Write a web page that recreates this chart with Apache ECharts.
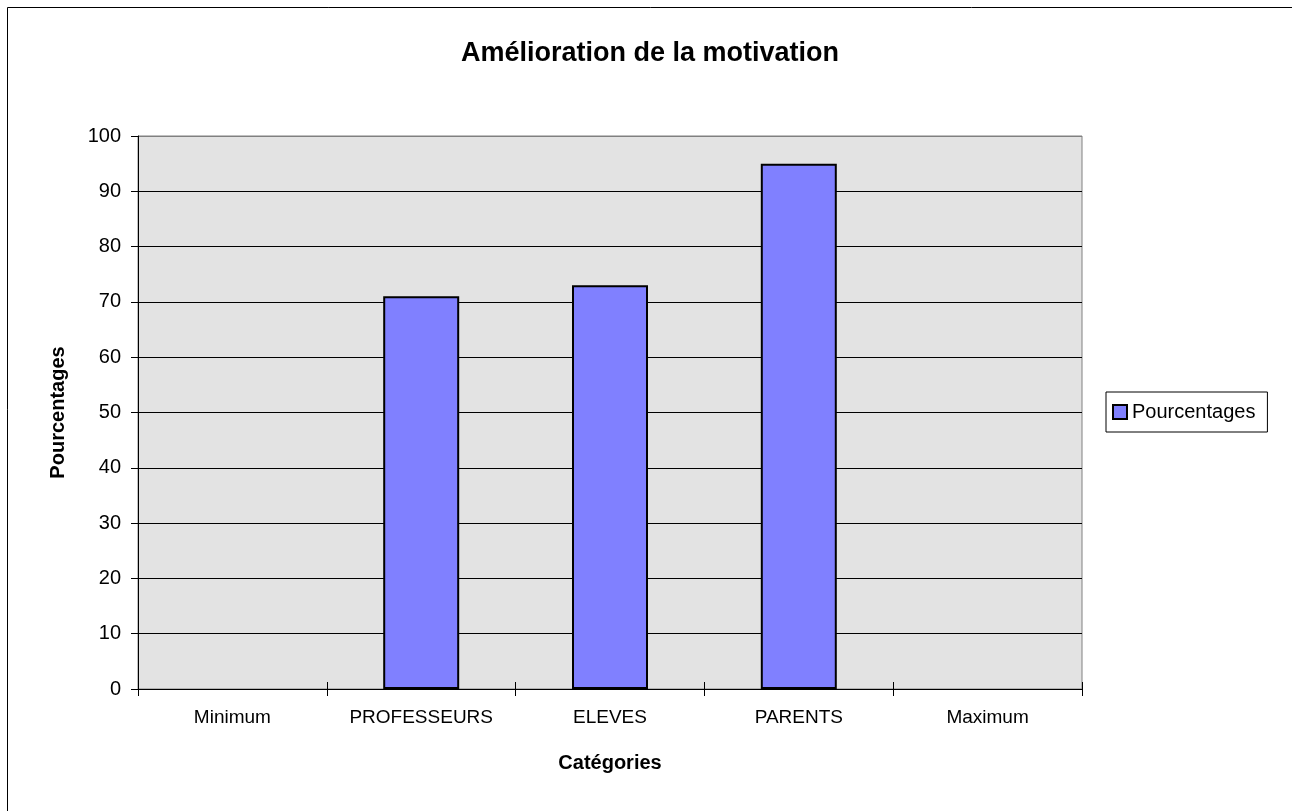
<!DOCTYPE html>
<html>
<head>
<meta charset="utf-8">
<script src="https://cdn.jsdelivr.net/npm/echarts@6/dist/echarts.min.js"></script>
<style>
  html, body { margin: 0; padding: 0; background: #fff; }
  #chart { width: 1292px; height: 811px; }
</style>
</head>
<body>
<div id="chart"></div>
<script>
// data
const categories = ['Minimum', 'PROFESSEURS', 'ELEVES', 'PARENTS', 'Maximum']
const pourcentages = [null, 71, 73, 95, null]
const yTicks = { min: 0, max: 100, interval: 10 }

const font = 'Liberation Sans, Arial, sans-serif'
const chart = echarts.init(document.getElementById('chart'))

// grid lines black, the one at 100 is the grey plot border
const splitColors = []
for (let v = yTicks.min; v <= yTicks.max; v += yTicks.interval) {
    splitColors.push(v === yTicks.max ? '#808080' : '#000')
}

const option = {
    backgroundColor: '#fff',
    animation: false,
    title: {
        text: 'Amélioration de la motivation',
        left: 461,
        top: 40,
        padding: 0,
        textStyle: { fontFamily: font, fontSize: 27, fontWeight: 'bold', color: '#000' }
    },
    legend: {
        data: ['Pourcentages'],
        orient: 'vertical',
        left: 1106,
        top: 392,
        padding: [10, 12, 10, 6],
        backgroundColor: '#fff',
        borderColor: '#000',
        borderWidth: 1,
        borderRadius: 0,
        itemWidth: 14,
        itemHeight: 14,
        icon: 'rect',
        textStyle: { fontFamily: font, fontSize: 20, color: '#000' }
    },
    grid: {
        left: 138,
        right: 210,
        top: 136,
        bottom: 122,
        show: true,
        backgroundColor: '#E3E3E3',
        borderColor: '#808080',
        borderWidth: 1
    },
    xAxis: [
        {
            type: 'category',
            data: categories,
            name: 'Catégories',
            nameLocation: 'middle',
            nameGap: 64,
            nameTextStyle: { fontFamily: font, fontSize: 20, fontWeight: 'bold', color: '#000' },
            axisLine: { lineStyle: { color: '#000', width: 1 } },
            axisTick: { show: true, length: 7, lineStyle: { color: '#000' } },
            axisLabel: { fontFamily: font, fontSize: 19, color: '#000', margin: 19 },
            splitLine: { show: false }
        },
        {
            // second copy only for the ticks crossing into the plot
            type: 'category',
            data: categories,
            position: 'bottom',
            axisLine: { show: false },
            axisTick: { show: true, inside: true, length: 7, lineStyle: { color: '#000' } },
            axisLabel: { show: false },
            splitLine: { show: false }
        }
    ],
    yAxis: {
        type: 'value',
        min: yTicks.min,
        max: yTicks.max,
        interval: yTicks.interval,
        name: 'Pourcentages',
        nameLocation: 'middle',
        nameGap: 70,
        nameTextStyle: { fontFamily: font, fontSize: 20, fontWeight: 'bold', color: '#000' },
        axisLine: { show: true, lineStyle: { color: '#000', width: 1 } },
        axisTick: { show: true, length: 7, lineStyle: { color: '#000' } },
        axisLabel: { fontFamily: font, fontSize: 20, color: '#000', margin: 17 },
        splitLine: { show: true, lineStyle: { color: splitColors, width: 1 } }
    },
    series: [
        {
            name: 'Pourcentages',
            type: 'bar',
            data: pourcentages,
            barWidth: 76,
            itemStyle: { color: '#8080FF', borderColor: '#000', borderWidth: 2 }
        }
    ],
    graphic: [
        {
            type: 'rect',
            shape: { x: 7.5, y: 7.5, width: 1300, height: 820 },
            style: { fill: 'none', stroke: '#000', lineWidth: 1 },
            silent: true
        }
    ]
}
chart.setOption(option)
</script>
</body>
</html>
